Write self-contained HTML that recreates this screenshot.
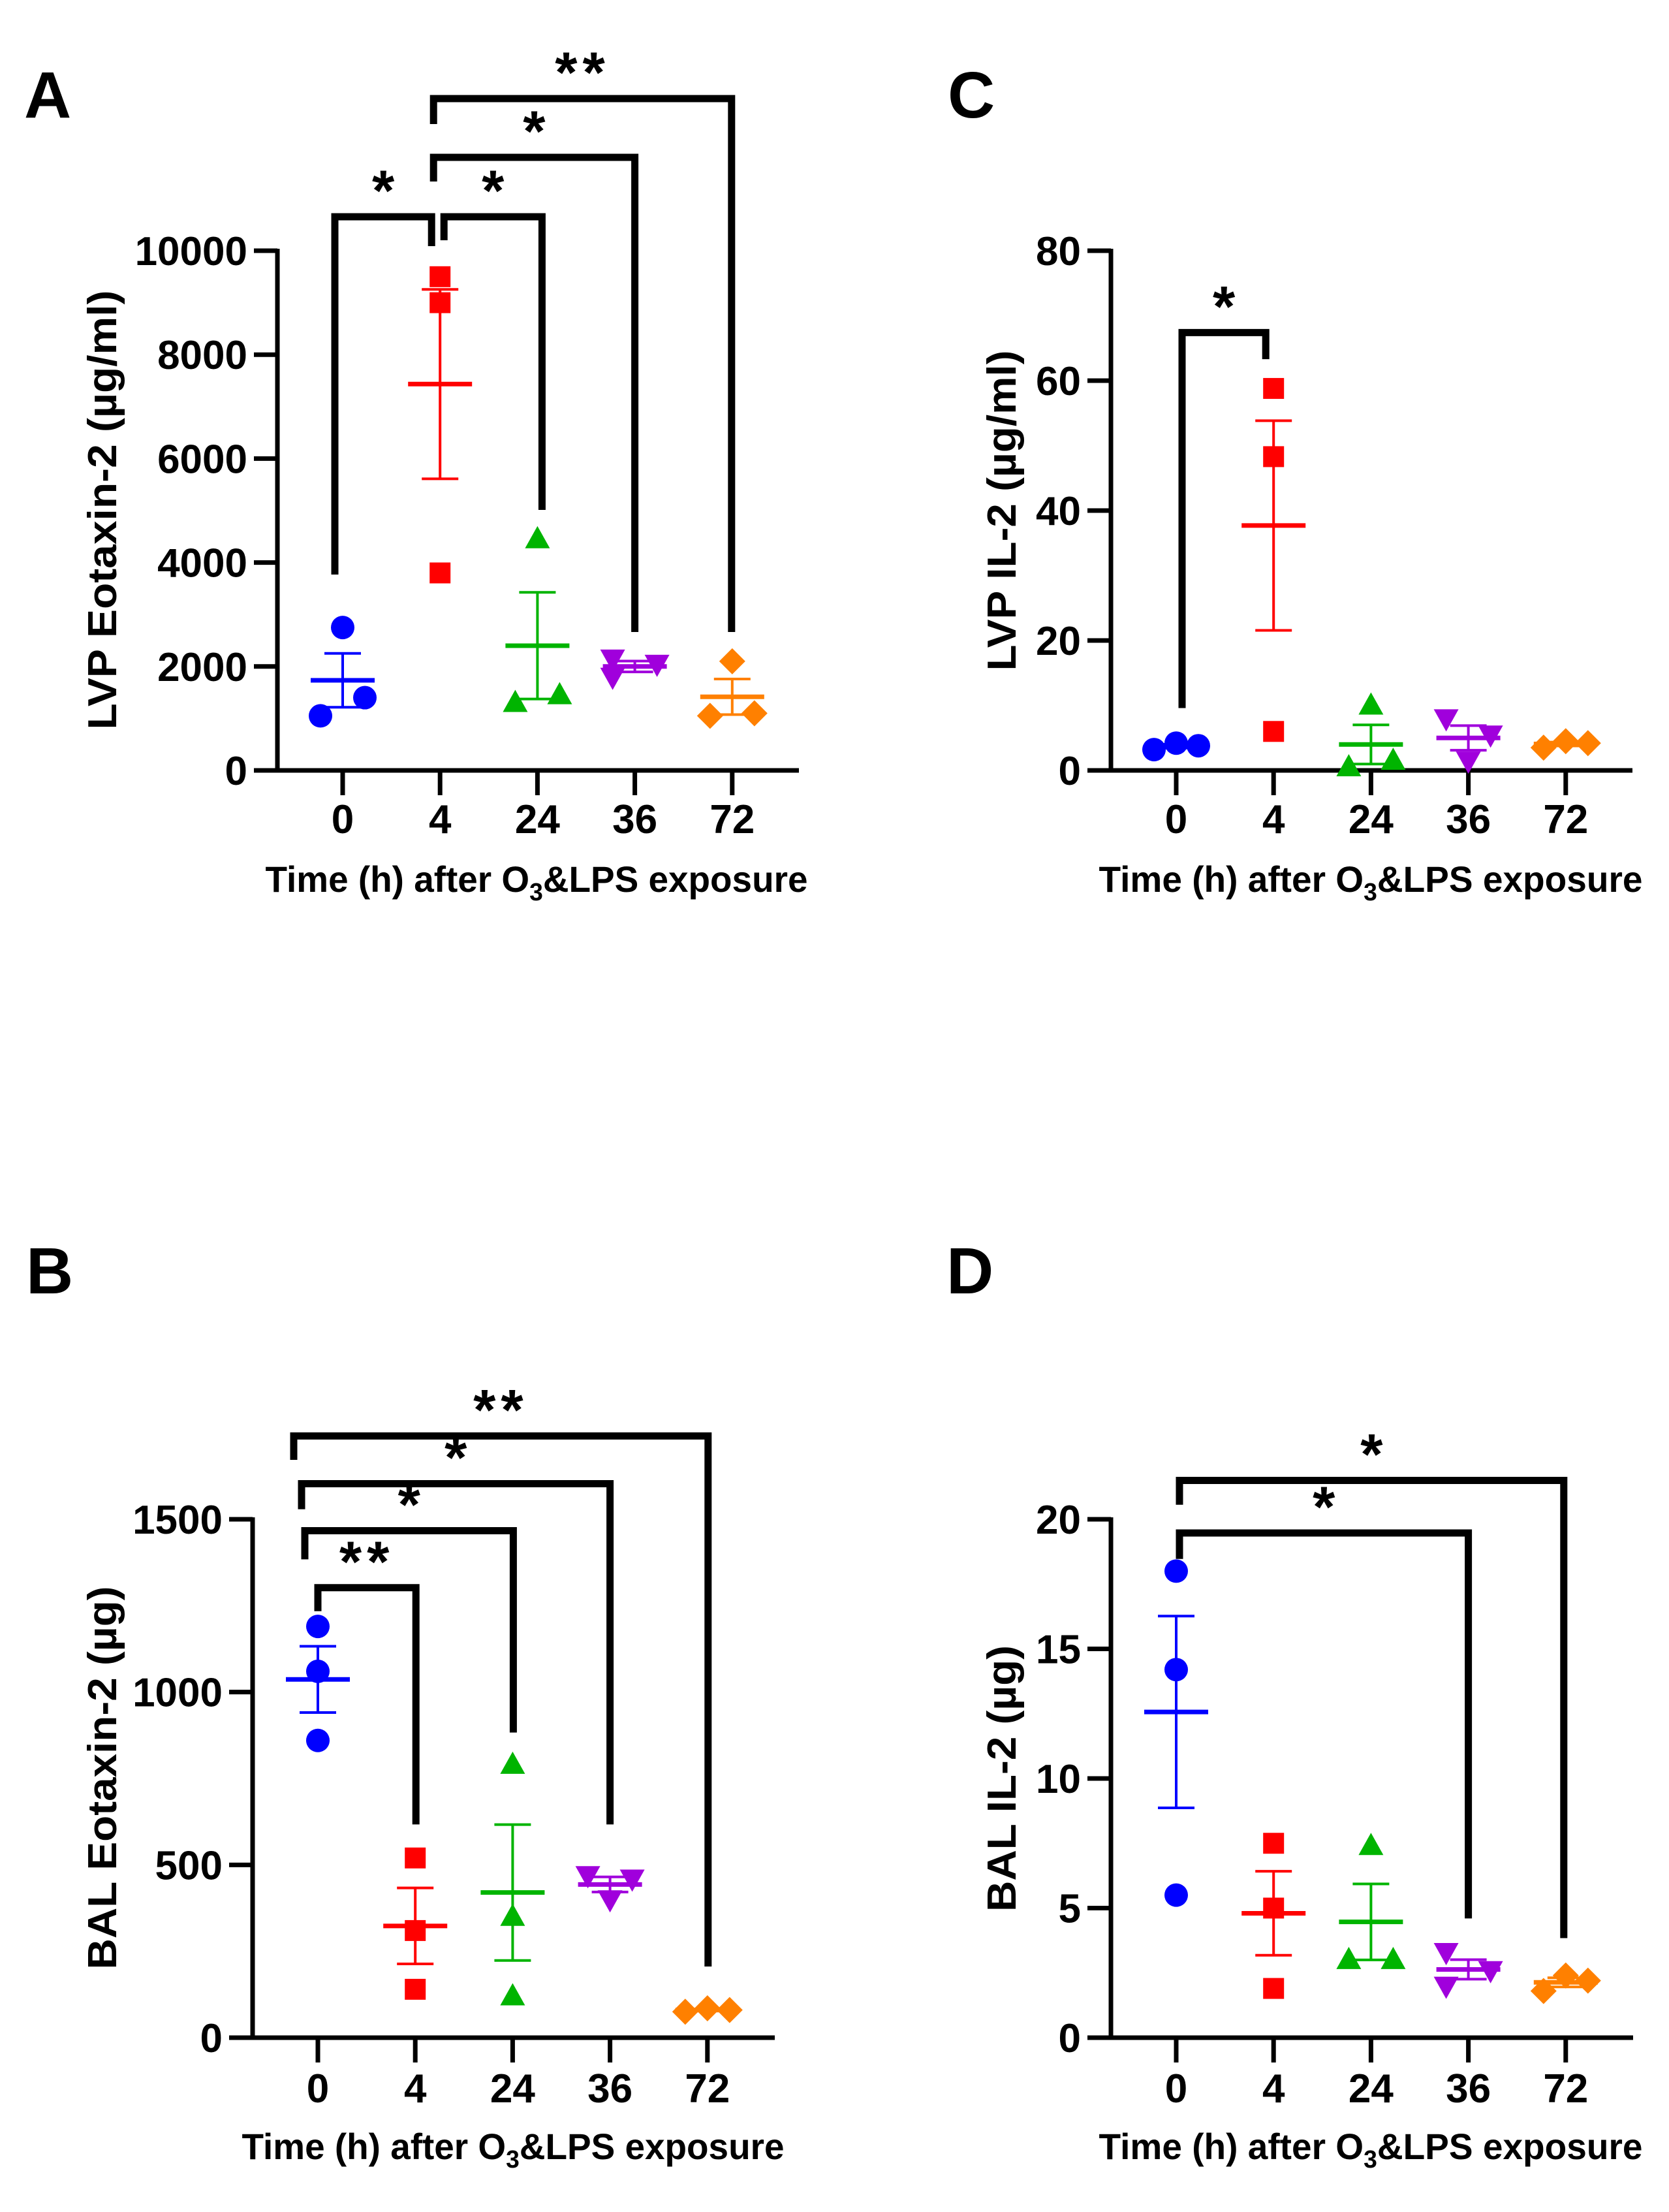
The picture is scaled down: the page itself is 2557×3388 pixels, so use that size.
<!DOCTYPE html>
<html><head><meta charset="utf-8">
<style>html,body{margin:0;padding:0;background:#fff}svg{display:block}</style>
</head><body>
<svg id="fig" width="2557" height="3388" viewBox="0 0 2557 3388" xmlns="http://www.w3.org/2000/svg" font-family="Liberation Sans, Arial, sans-serif" font-weight="bold">
<rect width="2557" height="3388" fill="#fff"/>
</svg>
<script>
const categories = ["0","4","24","36","72"];
const colors = ["#0000ff","#ff0000","#00b400","#a000dc","#ff8000"];
const shapes = ["circle","square","up","down","diamond"];

const aValues = [[1050,2750,1400],[9500,9000,3800],[1300,4450,1450],[2150,1800,2050],[1050,2100,1100]];
const aJitter = [[-1,0,1],[0,0,0],[-1,0,1],[-1,-1,1],[-1,0,1]];
const aTicks = [0,2000,4000,6000,8000,10000];

const bValues = [[1190,1060,860],[520,310,140],[790,350,120],[470,400,460],[75,85,80]];
const bJitter = [[0,0,0],[0,0,0],[0,0,0],[-1,0,1],[-1,0,1]];
const bTicks = [0,500,1000,1500];

const cValues = [[3.2,4.2,3.8],[58.8,48.3,6],[0.5,10,1.5],[8,1.5,5.5],[3.5,4.5,4.2]];
const cJitter = [[-1,0,1],[0,0,0],[-1,0,1],[-1,0,1],[-1,0,1]];
const cTicks = [0,20,40,60,80];

const dValues = [[18,14.2,5.5],[7.5,5,1.9],[3,7.4,3],[3.3,2.0,2.6],[1.8,2.4,2.2]];
const dJitter = [[0,0,0],[0,0,0],[-1,0,1],[-1,-1,1],[-1,0,1]];
const dTicks = [0,5,10,15,20];

// brackets: [from, to, top, leftBottom, rightBottom, label]
const aBrackets = [[0,1,10653,3769,10088,"*"],[1,2,10653,10201,5013,"*"],[1,3,11797,11332,2663,"*"],[1,4,12927,12437,2663,"**"]];
const bBrackets = [[0,1,1302,1234,617,"**"],[0,2,1467,1384,883,"*"],[0,3,1603,1529,617,"*"],[0,4,1741,1672,206,"**"]];
const cBrackets = [[0,1,67.4,9.6,63.3,"*"]];
const dBrackets = [[0,3,19.47,18.47,4.6,"*"],[0,4,21.5,20.56,3.84,"*"]];

const NS = "http://www.w3.org/2000/svg";
const svg = document.getElementById("fig");
function mk(tag, attrs, parent, text){
  const e = document.createElementNS(NS, tag);
  for (const k in attrs) e.setAttribute(k, attrs[k]);
  if (text !== undefined) e.textContent = text;
  (parent||svg).appendChild(e);
  return e;
}

const panels = [
  {id:"a", letter:"A", lx:37, ly:180, ox:425, y0:1180, ytop:384, xend:1224, ymax:10000, ticks:aTicks, values:aValues, jitter:aJitter, brackets:aBrackets,
   bdx:[[-12,-13],[6,7],[-10,0],[-10,-1]], ytitle:"LVP Eotaxin-2 (µg/ml)", ytx:156, yty:781, ytl:673, xtc:822, xtb:1366, xtl:831, tickBase:1276},
  {id:"b", letter:"B", lx:40, ly:1981, ox:387, y0:3121, ytop:2327, xend:1187, ymax:1500, ticks:bTicks, values:bValues, jitter:bJitter, brackets:bBrackets,
   bdx:[[0,1],[-20,1],[-25,0],[-37,1]], ytitle:"BAL Eotaxin-2 (µg)", ytx:156, yty:2723, ytl:587, xtc:786, xtb:3307, xtl:831, tickBase:3220},
  {id:"c", letter:"C", lx:1452, ly:180, ox:1702, y0:1180, ytop:384, xend:2501, ymax:80, ticks:cTicks, values:cValues, jitter:cJitter, brackets:cBrackets,
   bdx:[[9,-12]], ytitle:"LVP IL-2 (µg/ml)", ytx:1534, yty:782, ytl:491, xtc:2100, xtb:1366, xtl:833, tickBase:1276},
  {id:"d", letter:"D", lx:1450, ly:1981, ox:1702, y0:3121, ytop:2327, xend:2502, ymax:20, ticks:dTicks, values:dValues, jitter:dJitter, brackets:dBrackets,
   bdx:[[5,0],[5,-3]], ytitle:"BAL IL-2 (µg)", ytx:1534, yty:2724, ytl:408, xtc:2100, xtb:3307, xtl:833, tickBase:3220}
];

function marker(g, shape, cx, cy, color){
  let e;
  if (shape==="circle") e = mk("circle",{cx:cx,cy:cy,r:18,fill:color},g);
  else if (shape==="square") e = mk("rect",{x:cx-16,y:cy-16,width:32,height:32,fill:color},g);
  else if (shape==="up") e = mk("polygon",{points:`${cx},${cy-20} ${cx+19},${cy+14} ${cx-19},${cy+14}`,fill:color},g);
  else if (shape==="down") e = mk("polygon",{points:`${cx},${cy+20} ${cx+19},${cy-14} ${cx-19},${cy-14}`,fill:color},g);
  else e = mk("polygon",{points:`${cx},${cy-20} ${cx+20},${cy} ${cx},${cy+20} ${cx-20},${cy}`,fill:color},g);
  
  
}

panels.forEach(p=>{
  const g = mk("g",{});
  
  
  const yS = v => p.y0 - (v/p.ymax)*(p.y0-p.ytop);
  const xS = i => p.ox + 100 + i*149.2;

  const L = mk("text",{x:p.lx,y:p.ly,"font-size":100,fill:"#000"},g,p.letter);
  
  

  const ya = mk("line",{x1:p.ox,y1:p.ytop-3,x2:p.ox,y2:p.y0+3,stroke:"#000","stroke-width":7},g);
  
  
  const xa = mk("line",{x1:p.ox-36,y1:p.y0,x2:p.xend,y2:p.y0,stroke:"#000","stroke-width":7},g);
  
  

  p.ticks.forEach(t=>{
    const y = yS(t);
    const tl = mk("line",{x1:p.ox-36,y1:y,x2:p.ox,y2:y,stroke:"#000","stroke-width":7},g);
    
    
    const tt = mk("text",{x:p.ox-46,y:y+22,"font-size":62,"text-anchor":"end",fill:"#000"},g,String(t));
    
    
  });
  categories.forEach((c,i)=>{
    const x = xS(i);
    const tl = mk("line",{x1:x,y1:p.y0,x2:x,y2:p.y0+38,stroke:"#000","stroke-width":7},g);
    
    
    const tt = mk("text",{x:x,y:p.tickBase,"font-size":62,"text-anchor":"middle",fill:"#000"},g,c);
    
    
  });

  const yt = mk("text",{x:0,y:0,"font-size":62,"text-anchor":"middle",fill:"#000",
    transform:`translate(${p.ytx+22},${p.yty}) rotate(-90)`,textLength:p.ytl,lengthAdjust:"spacingAndGlyphs"},g,p.ytitle);
  
  

  const xt = mk("text",{x:p.xtc,y:p.xtb,"font-size":56,"text-anchor":"middle",fill:"#000",textLength:p.xtl,lengthAdjust:"spacingAndGlyphs"},g);
  
  
  mk("tspan",{},xt,"Time (h) after O");
  mk("tspan",{"font-size":38,dy:13},xt,"3");
  mk("tspan",{dy:-13},xt,"&LPS exposure");

  p.values.forEach((vals,i)=>{
    const col = colors[i], cx = xS(i);
    const n = vals.length;
    const mean = vals.reduce((a,b)=>a+b,0)/n;
    const sd = Math.sqrt(vals.reduce((a,b)=>a+(b-mean)*(b-mean),0)/(n-1));
    const sem = sd/Math.sqrt(n);
    const sg = mk("g",{},g);
    
    
    vals.forEach((v,k)=> marker(sg, shapes[i], cx + p.jitter[i][k]*34, yS(v), col));
    const eb = mk("line",{x1:cx,y1:yS(mean+sem),x2:cx,y2:yS(mean-sem),stroke:col,"stroke-width":4},sg);
    
    
    [mean+sem, mean-sem].forEach(v=>{
      const cap = mk("line",{x1:cx-28,y1:yS(v),x2:cx+28,y2:yS(v),stroke:col,"stroke-width":4},sg);
      
      
    });
    const ml = mk("line",{x1:cx-49,y1:yS(mean),x2:cx+49,y2:yS(mean),stroke:col,"stroke-width":7},sg);
    
    
  });

  p.brackets.forEach((b,k)=>{
    const xl = xS(b[0]) + p.bdx[k][0], xr = xS(b[1]) + p.bdx[k][1];
    const yt2 = yS(b[2]);
    const pl = mk("polyline",{points:`${xl},${yS(b[3])} ${xl},${yt2} ${xr},${yt2} ${xr},${yS(b[4])}`,fill:"none",stroke:"#000","stroke-width":11},g);
    
    
    const st = mk("text",{x:(xl+xr)/2,y:yt2-10,"font-size":88,"text-anchor":"middle",fill:"#000","letter-spacing":b[5]==="**"?8:0},g,b[5]);
    
    
  });
});
</script>
</body></html>
